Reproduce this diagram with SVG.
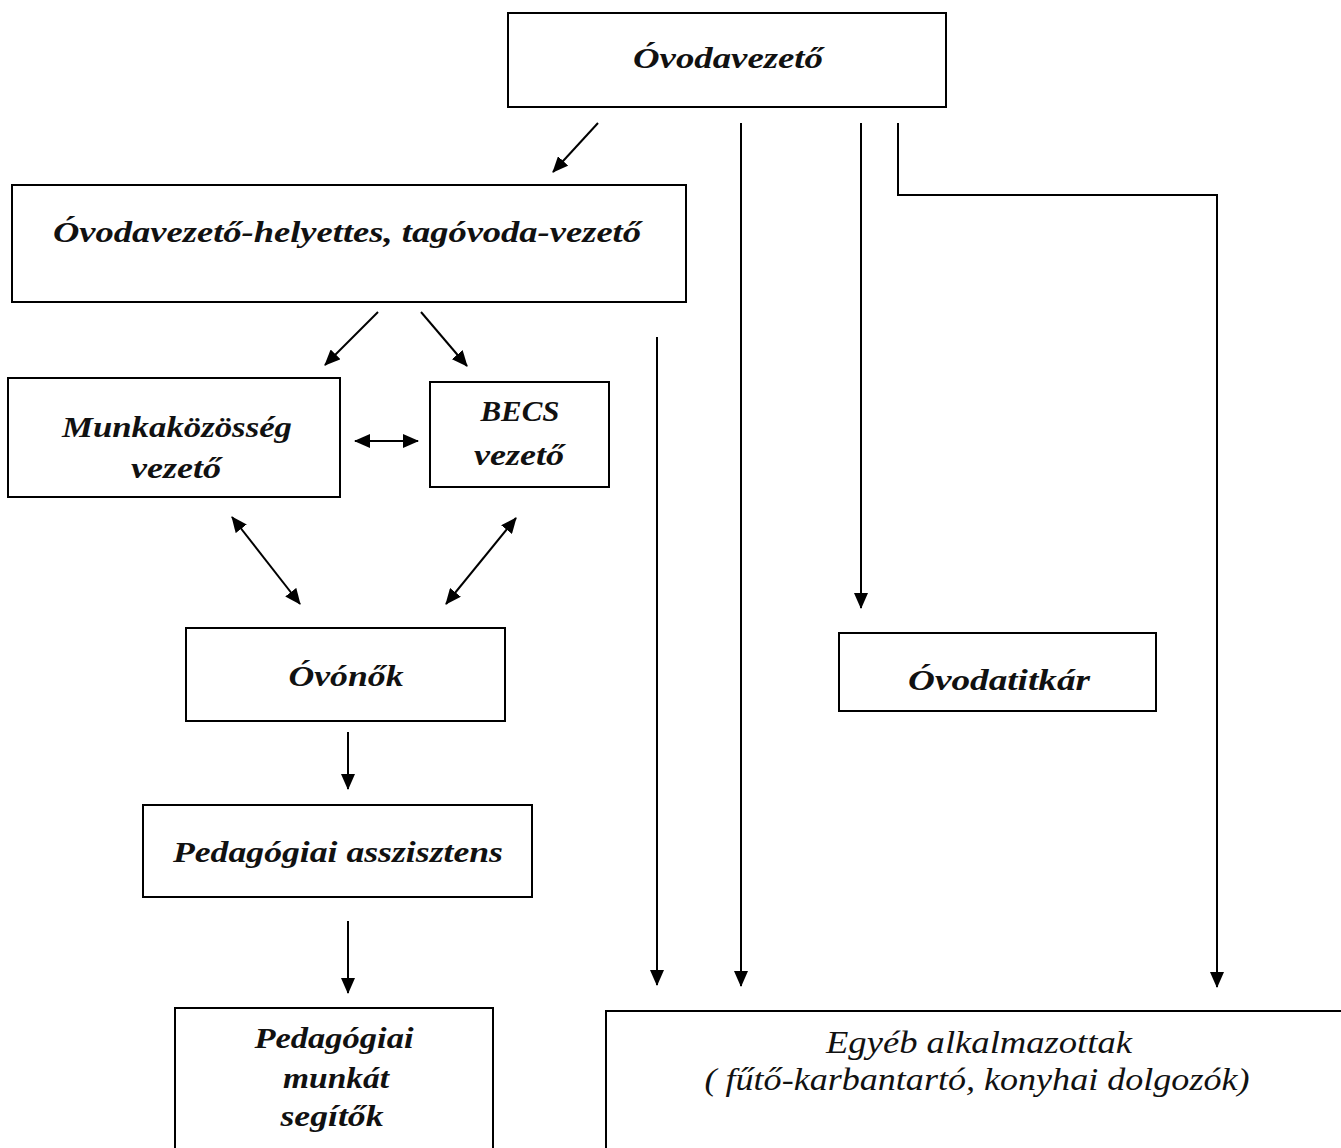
<svg xmlns="http://www.w3.org/2000/svg" width="1341" height="1148" viewBox="0 0 1341 1148">
<defs>
<marker id="ah" markerUnits="userSpaceOnUse" markerWidth="16" markerHeight="14" viewBox="0 0 16 14" refX="15" refY="7" orient="auto-start-reverse">
<path d="M0,0 L16,7 L0,14 Z" fill="#000"/>
</marker>
<style>
.box{fill:#fff;stroke:#000;stroke-width:2}
.t{font-family:"Liberation Serif","DejaVu Serif",serif;font-style:italic;font-weight:bold;font-size:29px;fill:#111;text-anchor:middle}
.e{font-family:"Liberation Serif","DejaVu Serif",serif;font-style:italic;font-size:31px;fill:#111;text-anchor:middle}
.c{fill:none;stroke:#000;stroke-width:2}
</style>
</defs>
<rect width="1341" height="1148" fill="#fff"/>
<g id="connectors">
<line class="c" x1="598" y1="123" x2="553" y2="172" marker-end="url(#ah)"/>
<line class="c" x1="741" y1="123" x2="741" y2="986" marker-end="url(#ah)"/>
<line class="c" x1="861" y1="123" x2="861" y2="608" marker-end="url(#ah)"/>
<polyline class="c" points="898,123 898,195 1217,195 1217,987" marker-end="url(#ah)"/>
<line class="c" x1="657" y1="337" x2="657" y2="985" marker-end="url(#ah)"/>
<line class="c" x1="378" y1="312" x2="325" y2="365" marker-end="url(#ah)"/>
<line class="c" x1="421" y1="312" x2="467" y2="366" marker-end="url(#ah)"/>
<line class="c" x1="355" y1="441" x2="418" y2="441" marker-start="url(#ah)" marker-end="url(#ah)"/>
<line class="c" x1="232" y1="517" x2="300" y2="604" marker-start="url(#ah)" marker-end="url(#ah)"/>
<line class="c" x1="516" y1="518" x2="446" y2="604" marker-start="url(#ah)" marker-end="url(#ah)"/>
<line class="c" x1="348" y1="732" x2="348" y2="789" marker-end="url(#ah)"/>
<line class="c" x1="348" y1="921" x2="348" y2="993" marker-end="url(#ah)"/>
</g>
<g id="ovodavezeto">
<rect class="box" x="508" y="13" width="438" height="94"/>
<text class="t" x="728" y="68" textLength="190" lengthAdjust="spacingAndGlyphs">Óvodavezető</text>
</g>
<g id="helyettes">
<rect class="box" x="12" y="185" width="674" height="117"/>
<text class="t" x="347" y="242" textLength="588" lengthAdjust="spacingAndGlyphs">Óvodavezető-helyettes, tagóvoda-vezető</text>
</g>
<g id="munkakozosseg">
<rect class="box" x="8" y="378" width="332" height="119"/>
<text class="t" x="177" y="437" textLength="230" lengthAdjust="spacingAndGlyphs">Munkaközösség</text>
<text class="t" x="176" y="478" textLength="90" lengthAdjust="spacingAndGlyphs">vezető</text>
</g>
<g id="becs">
<rect class="box" x="430" y="382" width="179" height="105"/>
<text class="t" x="520" y="421" textLength="79" lengthAdjust="spacingAndGlyphs">BECS</text>
<text class="t" x="519" y="465" textLength="90" lengthAdjust="spacingAndGlyphs">vezető</text>
</g>
<g id="ovonok">
<rect class="box" x="186" y="628" width="319" height="93"/>
<text class="t" x="346" y="686" textLength="115" lengthAdjust="spacingAndGlyphs">Óvónők</text>
</g>
<g id="asszisztens">
<rect class="box" x="143" y="805" width="389" height="92"/>
<text class="t" x="338" y="862" textLength="330" lengthAdjust="spacingAndGlyphs">Pedagógiai asszisztens</text>
</g>
<g id="segitok">
<rect class="box" x="175" y="1008" width="318" height="150"/>
<text class="t" x="334" y="1048" textLength="159" lengthAdjust="spacingAndGlyphs">Pedagógiai</text>
<text class="t" x="336" y="1088" textLength="106" lengthAdjust="spacingAndGlyphs">munkát</text>
<text class="t" x="332" y="1126" textLength="103" lengthAdjust="spacingAndGlyphs">segítők</text>
</g>
<g id="ovodatitkar">
<rect class="box" x="839" y="633" width="317" height="78"/>
<text class="t" x="999" y="690" textLength="182" lengthAdjust="spacingAndGlyphs">Óvodatitkár</text>
</g>
<g id="egyeb">
<rect class="box" x="606" y="1011" width="760" height="150"/>
<text class="e" x="979" y="1053" textLength="306" lengthAdjust="spacingAndGlyphs">Egyéb alkalmazottak</text>
<text class="e" x="977" y="1090" textLength="545" lengthAdjust="spacingAndGlyphs">( fűtő-karbantartó, konyhai dolgozók)</text>
</g>
</svg>
